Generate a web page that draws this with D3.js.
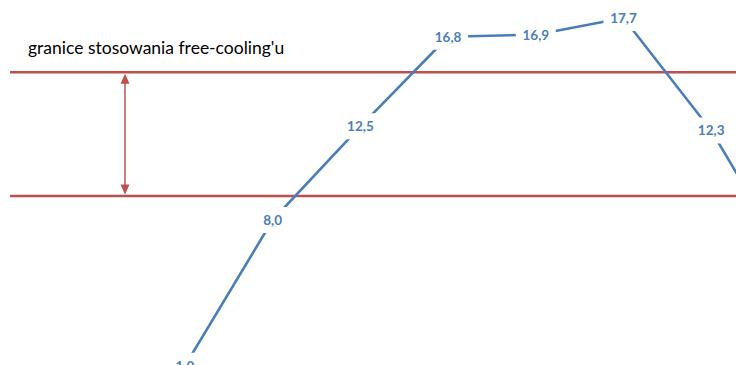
<!DOCTYPE html>
<html>
<head>
<meta charset="utf-8">
<script src="https://cdn.jsdelivr.net/npm/d3@7"></script>
<style>
  html, body { margin: 0; padding: 0; background: #fff; }
  svg { display: block; }
</style>
</head>
<body>
<svg id="chart" width="736" height="365"></svg>
<script>
// Monthly mean temperatures (°C) shown on the curve
const months = ["mar", "kwi", "maj", "cze", "lip", "sie", "wrz", "paź"];
const temps = [1.0, 8.0, 12.5, 16.8, 16.9, 17.7, 12.3, 5.2];

// Free-cooling usable range (°C)
const limits = [15.1, 9.15];
const limitLabel = "granice stosowania free-cooling'u";

const W = 736, H = 365;
const svg = d3.select("#chart");

const x = d3.scalePoint().domain(months).range([185, 185 + 87.7 * (months.length - 1)]);
const y = d3.scaleLinear().domain([8, 17.7]).range([220, 18]);

const fmt = v => d3.format(".1f")(v).replace(".", ",");

// limit lines
svg.selectAll("line.limit").data(limits).join("line")
  .attr("class", "limit")
  .attr("x1", 10).attr("x2", W)
  .attr("y1", d => y(d)).attr("y2", d => y(d))
  .attr("stroke", "#C0504D").attr("stroke-width", 2.5);

// double-headed arrow between the limits
const ax = 125;
const yTop = y(limits[0]) + 1.5, yBot = y(limits[1]) - 1.5;
svg.append("line")
  .attr("x1", ax).attr("x2", ax)
  .attr("y1", yTop + 8).attr("y2", yBot - 8)
  .attr("stroke", "#C0504D").attr("stroke-width", 1.5);
svg.append("path")
  .attr("d", `M${ax},${yTop} L${ax - 4.5},${yTop + 10} L${ax + 4.5},${yTop + 10} Z`)
  .attr("fill", "#C0504D");
svg.append("path")
  .attr("d", `M${ax},${yBot} L${ax - 4.5},${yBot - 10} L${ax + 4.5},${yBot - 10} Z`)
  .attr("fill", "#C0504D");

svg.append("text")
  .attr("x", 28).attr("y", 54)
  .attr("font-family", "Lato, 'Open Sans', sans-serif")
  .attr("font-size", 17.5)
  .attr("fill", "#000")
  .text(limitLabel);

// temperature curve
const line = d3.line().x((d, i) => x(months[i])).y(d => y(d));
svg.append("path")
  .datum(temps)
  .attr("d", line)
  .attr("fill", "none")
  .attr("stroke", "#4A7EBB")
  .attr("stroke-width", 2.6)
  .attr("stroke-linejoin", "round");

// value labels on white boxes (only those whose point lies inside the frame)
const pts = temps.map((v, i) => ({ v, m: months[i] })).filter(d => x(d.m) < W);
const lbl = svg.selectAll("g.lbl").data(pts).join("g")
  .attr("class", "lbl")
  .attr("transform", d => `translate(${x(d.m)},${y(d.v)})`);
lbl.append("rect")
  .attr("x", -20).attr("y", -13).attr("width", 40).attr("height", 26)
  .attr("fill", "#fff");
lbl.append("text")
  .attr("text-anchor", "middle")
  .attr("dy", "0.36em")
  .attr("font-family", "Lato, 'Open Sans', sans-serif")
  .attr("font-weight", "bold")
  .attr("font-size", 13.5)
  .attr("fill", "#4A7EBB")
  .text(d => fmt(d.v));
</script>
</body>
</html>
